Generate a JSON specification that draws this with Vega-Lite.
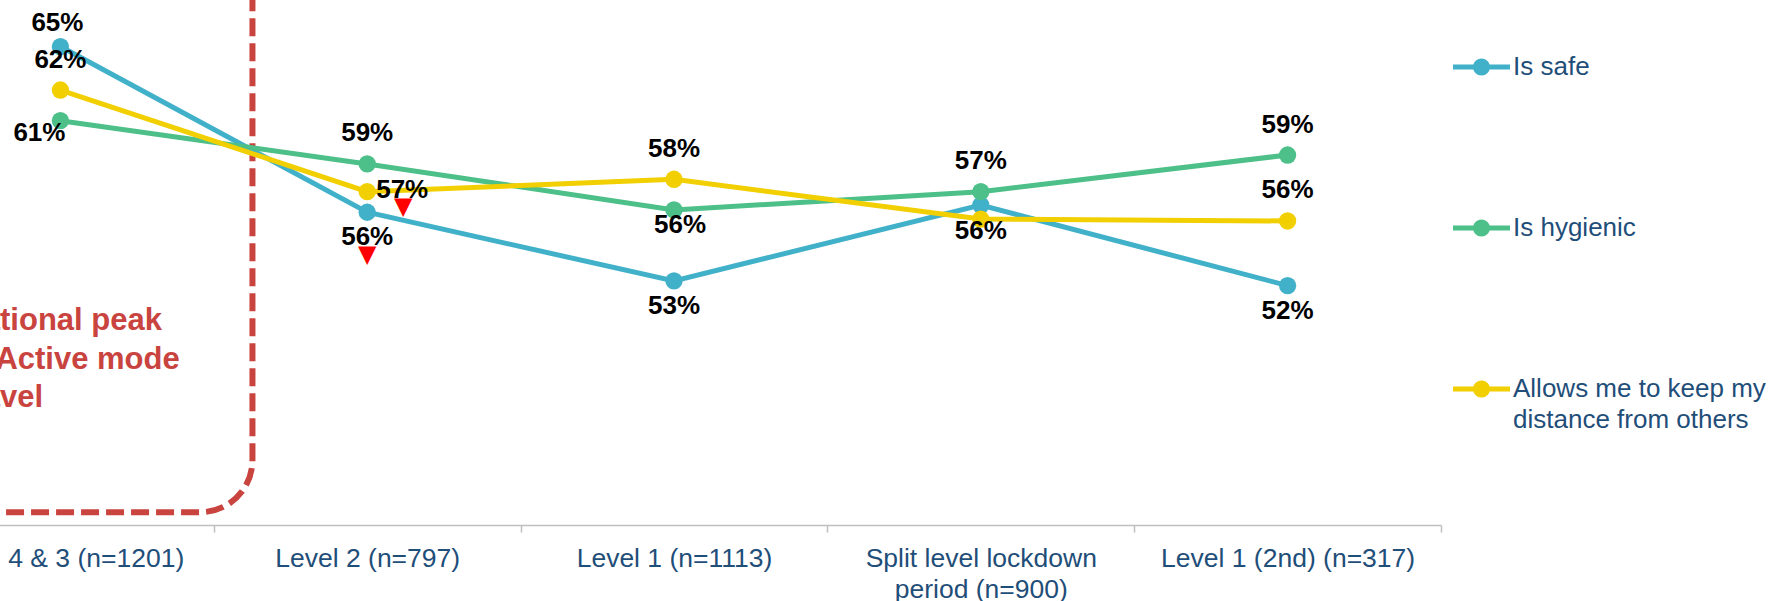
{
  "$schema": "https://vega.github.io/schema/vega-lite/v6.json",
  "width": 1534,
  "height": 525,
  "autosize": {"type": "none"},
  "padding": {"left": -93, "top": 0, "right": 334, "bottom": 76},
  "background": "white",
  "config": {
    "view": {"stroke": null},
    "font": "Liberation Sans",
    "text": {"font": "Liberation Sans"}
  },
  "datasets": {
    "scores": [
      {"period": "Level 4 & 3 (n=1201)", "series": "Is safe", "value": 0.6466, "change": null},
      {"period": "Level 2 (n=797)", "series": "Is safe", "value": 0.5612, "change": "decrease"},
      {"period": "Level 1 (n=1113)", "series": "Is safe", "value": 0.5258, "change": null},
      {"period": "Split level lockdown period (n=900)", "series": "Is safe", "value": 0.5649, "change": null},
      {"period": "Level 1 (2nd) (n=317)", "series": "Is safe", "value": 0.5234, "change": null},
      {"period": "Level 4 & 3 (n=1201)", "series": "Is hygienic", "value": 0.6084, "change": null},
      {"period": "Level 2 (n=797)", "series": "Is hygienic", "value": 0.5861, "change": null},
      {"period": "Level 1 (n=1113)", "series": "Is hygienic", "value": 0.5624, "change": null},
      {"period": "Split level lockdown period (n=900)", "series": "Is hygienic", "value": 0.5718, "change": null},
      {"period": "Level 1 (2nd) (n=317)", "series": "Is hygienic", "value": 0.5907, "change": null},
      {"period": "Level 4 & 3 (n=1201)", "series": "Allows me to keep my distance from others", "value": 0.6242, "change": null},
      {"period": "Level 2 (n=797)", "series": "Allows me to keep my distance from others", "value": 0.5718, "change": "decrease"},
      {"period": "Level 1 (n=1113)", "series": "Allows me to keep my distance from others", "value": 0.5782, "change": null},
      {"period": "Split level lockdown period (n=900)", "series": "Allows me to keep my distance from others", "value": 0.5577, "change": null},
      {"period": "Level 1 (2nd) (n=317)", "series": "Allows me to keep my distance from others", "value": 0.5567, "change": null}
    ]
  },
  "resolve": {"scale": {"x": "independent"}},
  "layer": [
    {
      "data": {"values": [{"note": ["National peak", "in Active mode", "travel"]}]},
      "encoding": {
        "x": {"datum": -1, "type": "quantitative", "scale": {"domain": [0, 5], "nice": false, "zero": false}, "axis": {"orient": "top", "domain": false, "ticks": false, "labels": false, "grid": false, "title": null}},
        "y": {"datum": 0.4066, "type": "quantitative", "scale": {"domain": [0.4, 0.6706], "nice": false, "zero": false}, "axis": null}
      },
      "layer": [
        {
          "mark": {"type": "rect", "filled": false, "stroke": "#C9433F", "strokeWidth": 6, "strokeDash": [18, 7], "cornerRadius": 52},
          "encoding": {
            "x2": {"datum": 1.126},
            "y2": {"datum": 0.75}
          }
        },
        {
          "mark": {"type": "text", "align": "left", "baseline": "alphabetic", "fontSize": 31, "fontWeight": "bold", "lineHeight": 38.5, "color": "#C9433F"},
          "encoding": {
            "x": {"datum": 0.174, "type": "quantitative", "axis": {"orient": "top", "domain": false, "ticks": false, "labels": false, "grid": false, "title": null}},
            "y": {"datum": 0.5005, "type": "quantitative", "axis": null},
            "text": {"field": "note"}
          }
        }
      ]
    },
    {
      "data": {"name": "scores"},
      "encoding": {
        "x": {
          "field": "period",
          "type": "nominal",
          "sort": ["Level 4 & 3 (n=1201)", "Level 2 (n=797)", "Level 1 (n=1113)", "Split level lockdown period (n=900)", "Level 1 (2nd) (n=317)"],
          "scale": {"type": "band", "paddingInner": 0, "paddingOuter": 0},
          "axis": {
            "orient": "bottom",
            "title": null,
            "labelAngle": 0,
            "labelFontSize": 26.5,
            "labelColor": "#1F4E79",
            "labelLineHeight": 31,
            "labelPadding": 13,
            "labelLimit": 400,
            "labelExpr": "datum.label == 'Split level lockdown period (n=900)' ? ['Split level lockdown', 'period (n=900)'] : datum.label",
            "domainColor": "#BFBFBF",
            "domainWidth": 1.5,
            "tickColor": "#BFBFBF",
            "tickWidth": 1.5,
            "tickSize": 7,
            "tickBand": "extent",
            "grid": false
          }
        },
        "y": {
          "field": "value",
          "type": "quantitative",
          "scale": {"domain": [0.4, 0.6706], "nice": false, "zero": false},
          "axis": null
        }
      },
      "layer": [
        {
          "mark": {"type": "line", "strokeWidth": 5},
          "encoding": {
            "color": {
              "field": "series",
              "type": "nominal",
              "scale": {
                "domain": ["Is safe", "Is hygienic", "Allows me to keep my distance from others"],
                "range": ["#41B1C9", "#4DBF88", "#F2CF00"]
              },
              "legend": {
                "title": null,
                "orient": "none",
                "legendX": 1546,
                "legendY": 47,
                "direction": "vertical",
                "symbolType": "M-1,-0.088L1,-0.088L1,0.088L-1,0.088Z M0.3,0A0.3,0.3 0 1,1 -0.3,0A0.3,0.3 0 1,1 0.3,0Z",
                "symbolSize": 3249,
                "symbolStrokeWidth": 0,
                "clipHeight": 40,
                "rowPadding": 121,
                "labelOffset": 3,
                "labelFontSize": 26,
                "labelColor": "#1F4E79",
                "labelLimit": 500,
                "labelExpr": "datum.label == 'Allows me to keep my distance from others' ? ['Allows me to keep my', 'distance from others'] : datum.label",
                "encode": {"labels": {"update": {"lineHeight": {"value": 31}}}}
              }
            }
          }
        },
        {
          "mark": {"type": "circle", "size": 300, "opacity": 1},
          "encoding": {"color": {"field": "series", "type": "nominal"}}
        },
        {
          "transform": [{"filter": {"or": [
            {"and": [{"field": "series", "equal": "Is hygienic"}, {"field": "period", "oneOf": ["Level 2 (n=797)", "Split level lockdown period (n=900)", "Level 1 (2nd) (n=317)"]}]},
            {"and": [{"field": "series", "equal": "Allows me to keep my distance from others"}, {"field": "period", "oneOf": ["Level 4 & 3 (n=1201)", "Level 1 (n=1113)", "Level 1 (2nd) (n=317)"]}]}
          ]}}],
          "mark": {"type": "text", "fontSize": 26, "fontWeight": "bold", "color": "black", "baseline": "middle", "dy": -30.5},
          "encoding": {"text": {"field": "value", "type": "quantitative", "format": ".0%"}}
        },
        {
          "transform": [{"filter": {"and": [{"field": "series", "equal": "Is safe"}, {"field": "period", "equal": "Level 4 & 3 (n=1201)"}]}}],
          "mark": {"type": "text", "fontSize": 26, "fontWeight": "bold", "color": "black", "baseline": "middle", "dx": -3, "dy": -24},
          "encoding": {"text": {"field": "value", "type": "quantitative", "format": ".0%"}}
        },
        {
          "transform": [{"filter": {"and": [{"field": "series", "equal": "Is safe"}, {"field": "period", "oneOf": ["Level 2 (n=797)", "Level 1 (n=1113)", "Level 1 (2nd) (n=317)"]}]}}],
          "mark": {"type": "text", "fontSize": 26, "fontWeight": "bold", "color": "black", "baseline": "middle", "dy": 25},
          "encoding": {"text": {"field": "value", "type": "quantitative", "format": ".0%"}}
        },
        {
          "transform": [{"filter": {"and": [{"field": "series", "equal": "Is hygienic"}, {"field": "period", "equal": "Level 1 (n=1113)"}]}}],
          "mark": {"type": "text", "fontSize": 26, "fontWeight": "bold", "color": "black", "baseline": "middle", "dx": 6, "dy": 15},
          "encoding": {"text": {"field": "value", "type": "quantitative", "format": ".0%"}}
        },
        {
          "transform": [{"filter": {"and": [{"field": "series", "equal": "Allows me to keep my distance from others"}, {"field": "period", "equal": "Split level lockdown period (n=900)"}]}}],
          "mark": {"type": "text", "fontSize": 26, "fontWeight": "bold", "color": "black", "baseline": "middle", "dy": 12},
          "encoding": {"text": {"field": "value", "type": "quantitative", "format": ".0%"}}
        },
        {
          "transform": [{"filter": {"and": [{"field": "series", "equal": "Is hygienic"}, {"field": "period", "equal": "Level 4 & 3 (n=1201)"}]}}],
          "mark": {"type": "text", "fontSize": 26, "fontWeight": "bold", "color": "black", "baseline": "middle", "dx": -21, "dy": 12},
          "encoding": {"text": {"field": "value", "type": "quantitative", "format": ".0%"}}
        },
        {
          "transform": [{"filter": {"and": [{"field": "series", "equal": "Allows me to keep my distance from others"}, {"field": "period", "equal": "Level 2 (n=797)"}]}}],
          "mark": {"type": "text", "fontSize": 26, "fontWeight": "bold", "color": "black", "baseline": "middle", "align": "left", "dx": 9, "dy": -2},
          "encoding": {"text": {"field": "value", "type": "quantitative", "format": ".0%"}}
        },
        {
          "transform": [{"filter": {"and": [{"field": "series", "equal": "Is safe"}, {"field": "change", "equal": "decrease"}]}}],
          "mark": {"type": "text", "text": "▼", "font": "DejaVu Sans", "fontSize": 24, "color": "#FF0000", "baseline": "middle", "dy": 43}
        },
        {
          "transform": [{"filter": {"and": [{"field": "series", "equal": "Allows me to keep my distance from others"}, {"field": "change", "equal": "decrease"}]}}],
          "mark": {"type": "text", "text": "▼", "font": "DejaVu Sans", "fontSize": 24, "color": "#FF0000", "baseline": "middle", "dx": 36, "dy": 15}
        }
      ]
    }
  ]
}
